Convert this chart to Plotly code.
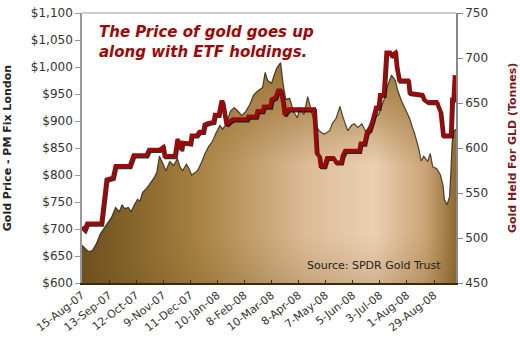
import plotly.graph_objects as go

# ---- data (x = trading-day index since 15-Aug-07) ----
tick_days = [0, 21, 42, 63, 84, 105, 126, 147, 168, 189, 210, 231, 252, 273]
tick_labels = ["15-Aug-07", "13-Sep-07", "12-Oct-07", "9-Nov-07", "11-Dec-07",
               "10-Jan-08", "8-Feb-08", "10-Mar-08", "8-Apr-08", "7-May-08",
               "5-Jun-08", "3-Jul-08", "1-Aug-08", "29-Aug-08"]

gold_day = [0, 2, 5, 8, 11, 14, 17, 20, 23, 26, 29, 31, 33, 36, 38, 40, 43, 45, 47, 50,
            53, 56, 58, 60, 63, 65, 68, 71, 74, 76, 78, 81, 83, 85, 88, 90, 93, 95, 98, 101,
            104, 107, 109, 112, 115, 118, 121, 124, 127, 130, 133, 136, 140, 142, 144, 147,
            149, 151, 154, 156, 158, 161, 164, 167, 169, 172, 175, 178, 181, 184, 186, 188,
            192, 194, 197, 200, 202, 206, 209, 211, 214, 217, 220, 223, 226, 230, 233, 235,
            237, 240, 243, 245, 248, 250, 254, 256, 258, 261, 263, 265, 268, 270, 272, 275,
            278, 280, 281, 283, 285, 286, 287, 288, 290]
gold_price = [670, 665, 658, 660, 672, 690, 700, 712, 722, 740, 732, 745, 738, 740, 732, 742,
              755, 752, 768, 775, 786, 795, 805, 835, 820, 808, 825, 818, 830, 815, 808, 820,
              812, 800, 805, 810, 825, 838, 852, 862, 878, 892, 885, 895, 918, 925, 918, 910,
              918, 930, 948, 955, 962, 990, 975, 970, 985, 998, 1008, 968, 940, 942, 918, 906,
              925, 912, 945, 918, 890, 882, 878, 876, 882, 895, 905, 927, 910, 882, 892, 895,
              888, 895, 880, 892, 905, 912, 930, 945, 966, 985, 975, 955, 936, 925, 905, 890,
              876, 850, 826, 835, 825, 840, 815, 812, 800, 780, 755, 745, 760, 805, 860, 880,
              885]

etf_day = [0, 2, 4, 15, 17, 19, 24, 26, 37, 40, 50, 52, 60, 63, 64, 72, 74, 75, 77, 78, 84,
           85, 89, 91, 94, 95, 98, 102, 103, 106, 108, 109, 111, 112, 115, 117, 128, 129, 135,
           136, 140, 141, 146, 147, 150, 152, 154, 156, 157, 160, 180, 182, 184, 185, 188, 190,
           195, 197, 201, 202, 204, 215, 216, 219, 221, 223, 225, 226, 228, 230, 231, 234, 236,
           239, 240, 243, 244, 246, 253, 254, 264, 265, 268, 275, 277, 278, 280, 286, 287, 288,
           289]
etf_tonnes = [512, 509, 516, 516, 540, 565, 567, 580, 580, 592, 592, 598, 598, 601, 591, 591,
              610, 605, 598, 606, 605, 614, 614, 618, 618, 626, 628, 629, 637, 637, 651, 651,
              637, 626, 630, 632, 632, 635, 635, 641, 641, 646, 646, 654, 656, 664, 664, 650,
              637, 643, 643, 594, 591, 580, 580, 589, 589, 584, 584, 591, 597, 597, 605, 605,
              618, 620, 629, 635, 645, 645, 659, 659, 706, 706, 703, 706, 690, 675, 675, 661,
              659, 654, 651, 651, 645, 640, 614, 614, 654, 654, 681]

FONT = "DejaVu Sans"
RED = "#990a0a"

fig = go.Figure()

# gold area: horizontal gradient base
fig.add_trace(go.Scatter(
    x=gold_day, y=gold_price, mode="lines", fill="tozeroy",
    line=dict(width=0, color="rgba(0,0,0,0)"),
    fillgradient=dict(type="horizontal", start=0, stop=290,
                      colorscale=[[0, "#6c4e1c"], [0.3, "#a5803f"], [0.6, "#dcbc97"],
                                  [0.78, "#ebd0b2"], [0.92, "#c9a374"], [1, "#8d6a30"]]),
    hoverinfo="skip", showlegend=False, yaxis="y"))
# gold area: vertical darkening overlay toward the top
fig.add_trace(go.Scatter(
    x=gold_day, y=gold_price, mode="lines", fill="tozeroy",
    line=dict(width=0, color="rgba(0,0,0,0)"),
    fillgradient=dict(type="vertical", start=600, stop=1010,
                      colorscale=[[0, "rgba(110,80,30,0.25)"], [0.25, "rgba(150,110,50,0)"],
                                  [0.55, "rgba(150,110,50,0)"], [0.8, "rgba(150,110,45,0.55)"],
                                  [1, "rgba(140,100,40,0.85)"]]),
    hoverinfo="skip", showlegend=False, yaxis="y"))
# dark contour edge
fig.add_trace(go.Scatter(
    x=gold_day, y=gold_price, mode="lines",
    line=dict(width=1.2, color="rgba(35,22,5,0.75)"),
    hoverinfo="skip", showlegend=False, yaxis="y"))

# ETF holdings line with shadow
fig.add_trace(go.Scatter(
    x=[d + 0.9 for d in etf_day], y=[t - 1.6 for t in etf_tonnes], mode="lines",
    line=dict(width=3.5, color="rgba(0,0,0,0.8)"),
    hoverinfo="skip", showlegend=False, yaxis="y2"))
fig.add_trace(go.Scatter(
    x=etf_day, y=etf_tonnes, mode="lines",
    line=dict(width=4, color=RED),
    hoverinfo="skip", showlegend=False, yaxis="y2"))

fig.update_layout(
    width=520, height=341,
    margin=dict(l=82, r=64, t=6, b=58),
    paper_bgcolor="white", plot_bgcolor="white",
    font=dict(family=FONT, size=12, color="#333"),
    xaxis=dict(range=[0, 290], tickvals=tick_days, ticktext=tick_labels,
               tickangle=-38, tickfont=dict(size=11, color="#333"),
               showgrid=False, zeroline=False, showline=True, linecolor="#3a2a12",
               linewidth=1.5, ticks="inside", ticklen=3, tickcolor="#3a2a12"),
    yaxis=dict(range=[600, 1100], dtick=50, tickformat="$,.0f",
               tickfont=dict(size=12, color="#333"), ticklabeloverflow="allow",
               showgrid=False, zeroline=False, showline=True, linecolor="#999",
               linewidth=1.5, ticks="outside", ticklen=5, tickcolor="#999"),
    yaxis2=dict(range=[450, 750], dtick=50, overlaying="y", side="right",
                tickfont=dict(size=12, color="#333"), ticklabeloverflow="allow",
                showgrid=False, zeroline=False, showline=True, linecolor="#888",
                linewidth=1.5, ticks="outside", ticklen=5, tickcolor="#888"),
    shapes=[dict(type="line", xref="x domain", yref="y domain", x0=0, x1=1, y0=1, y1=1,
                 line=dict(color="#bbb", width=1.5))],
    annotations=[
        dict(text="The Price of gold goes up<br>along with ETF holdings.",
             xref="paper", yref="paper", x=0.04, y=0.97, xanchor="left", yanchor="top",
             align="left", showarrow=False,
             font=dict(family=FONT, size=15, color=RED, weight="bold", style="italic")),
        dict(text="Source: SPDR Gold Trust", xref="paper", yref="paper",
             x=0.965, y=0.065, xanchor="right", yanchor="middle", showarrow=False,
             font=dict(family=FONT, size=11, color="#222")),
        dict(text="Gold Price - PM Fix London", xref="paper", yref="paper",
             x=-0.2, y=0.5, xanchor="center", yanchor="middle", textangle=-90,
             showarrow=False,
             font=dict(family=FONT, size=11, color="#222", weight="bold")),
        dict(text="Gold Held For GLD (Tonnes)", xref="paper", yref="paper",
             x=1.15, y=0.5, xanchor="center", yanchor="middle", textangle=-90,
             showarrow=False,
             font=dict(family=FONT, size=11, color="#7a1a1a", weight="bold")),
    ],
)

fig.write_html("out.html")
